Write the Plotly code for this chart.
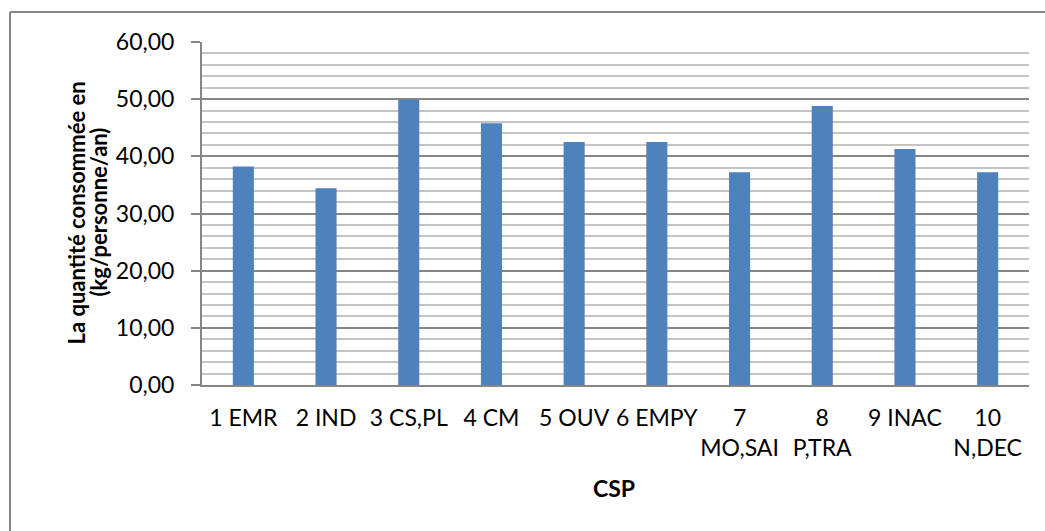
import plotly.graph_objects as go

# Consommation annuelle par catégorie socio-professionnelle (CSP)
categories = ["1 EMR", "2 IND", "3 CS,PL", "4 CM", "5 OUV", "6 EMPY",
              "7<br>MO,SAI", "8<br>P,TRA", "9 INAC", "10<br>N,DEC"]
quantites = [38.2, 34.4, 49.9, 45.8, 42.5, 42.5, 37.2, 48.8, 41.3, 37.2]

y_ticks = [0, 10, 20, 30, 40, 50, 60]

y_title_lines = ["La quantité consommée en", "(kg/personne/an)"]
x_title = "CSP"

BAR = "#4F81BD"
MAJOR = "#868686"
MINOR = "#C4C4C4"
FONT = "Lato"

fig = go.Figure()
fig.add_trace(go.Bar(
    x=categories,
    y=quantites,
    marker=dict(color=BAR, line=dict(width=0)),
    width=0.255,
))

W, H = 1045, 531
L, R, T, B = 202, 16, 42, 146
pw, ph = W - L - R, H - T - B


def px_x(x):
    return (x - L) / pw


def px_y(y):
    return (H - B - y) / ph


fig.update_layout(
    width=W, height=H,
    margin=dict(l=L, r=R, t=T, b=B, pad=0),
    paper_bgcolor="white",
    plot_bgcolor="white",
    separators=", ",
    showlegend=False,
    font=dict(family=FONT, size=22, color="#000000"),
    xaxis=dict(
        type="category",
        showgrid=False,
        showline=True, linecolor=MAJOR, linewidth=2,
        ticks="",
        tickangle=0,
        ticklabelstandoff=11,
        tickfont=dict(size=23),
    ),
    yaxis=dict(
        range=[0, 60],
        tickvals=y_ticks,
        tickformat=".2f",
        showgrid=True, gridcolor=MAJOR, gridwidth=2,
        minor=dict(dtick=2, showgrid=True, gridcolor=MINOR, gridwidth=1.6, ticks=""),
        showline=True, linecolor=MAJOR, linewidth=2,
        ticks="outside", ticklen=9, tickcolor=MAJOR, tickwidth=2,
        ticklabelstandoff=12,
        tickfont=dict(size=23),
        zeroline=False,
    ),
)

# Titre de l'axe vertical, sur deux lignes rapprochées
for text, cx in zip(y_title_lines, [76, 98]):
    fig.add_annotation(
        text=f"<b>{text}</b>", textangle=-90,
        xref="paper", yref="paper", x=px_x(cx), y=px_y(212.5),
        xanchor="center", yanchor="middle", showarrow=False,
        font=dict(family=FONT, size=22, color="#000000"),
    )

# Titre de l'axe horizontal
fig.add_annotation(
    text=f"<b>{x_title}</b>",
    xref="paper", yref="paper", x=px_x(614), y=px_y(488),
    xanchor="center", yanchor="middle", showarrow=False,
    font=dict(family=FONT, size=23, color="#000000"),
)

# Cadre extérieur du graphique (bords gauche et haut visibles)
bx = px_x(10)
by = px_y(12)
fig.add_shape(type="line", xref="paper", yref="paper",
              x0=bx, x1=bx, y0=by, y1=-1.0, line=dict(color=MAJOR, width=2))
fig.add_shape(type="line", xref="paper", yref="paper",
              x0=bx, x1=1.2, y0=by, y1=by, line=dict(color=MAJOR, width=2))

fig.write_html("out.html")
